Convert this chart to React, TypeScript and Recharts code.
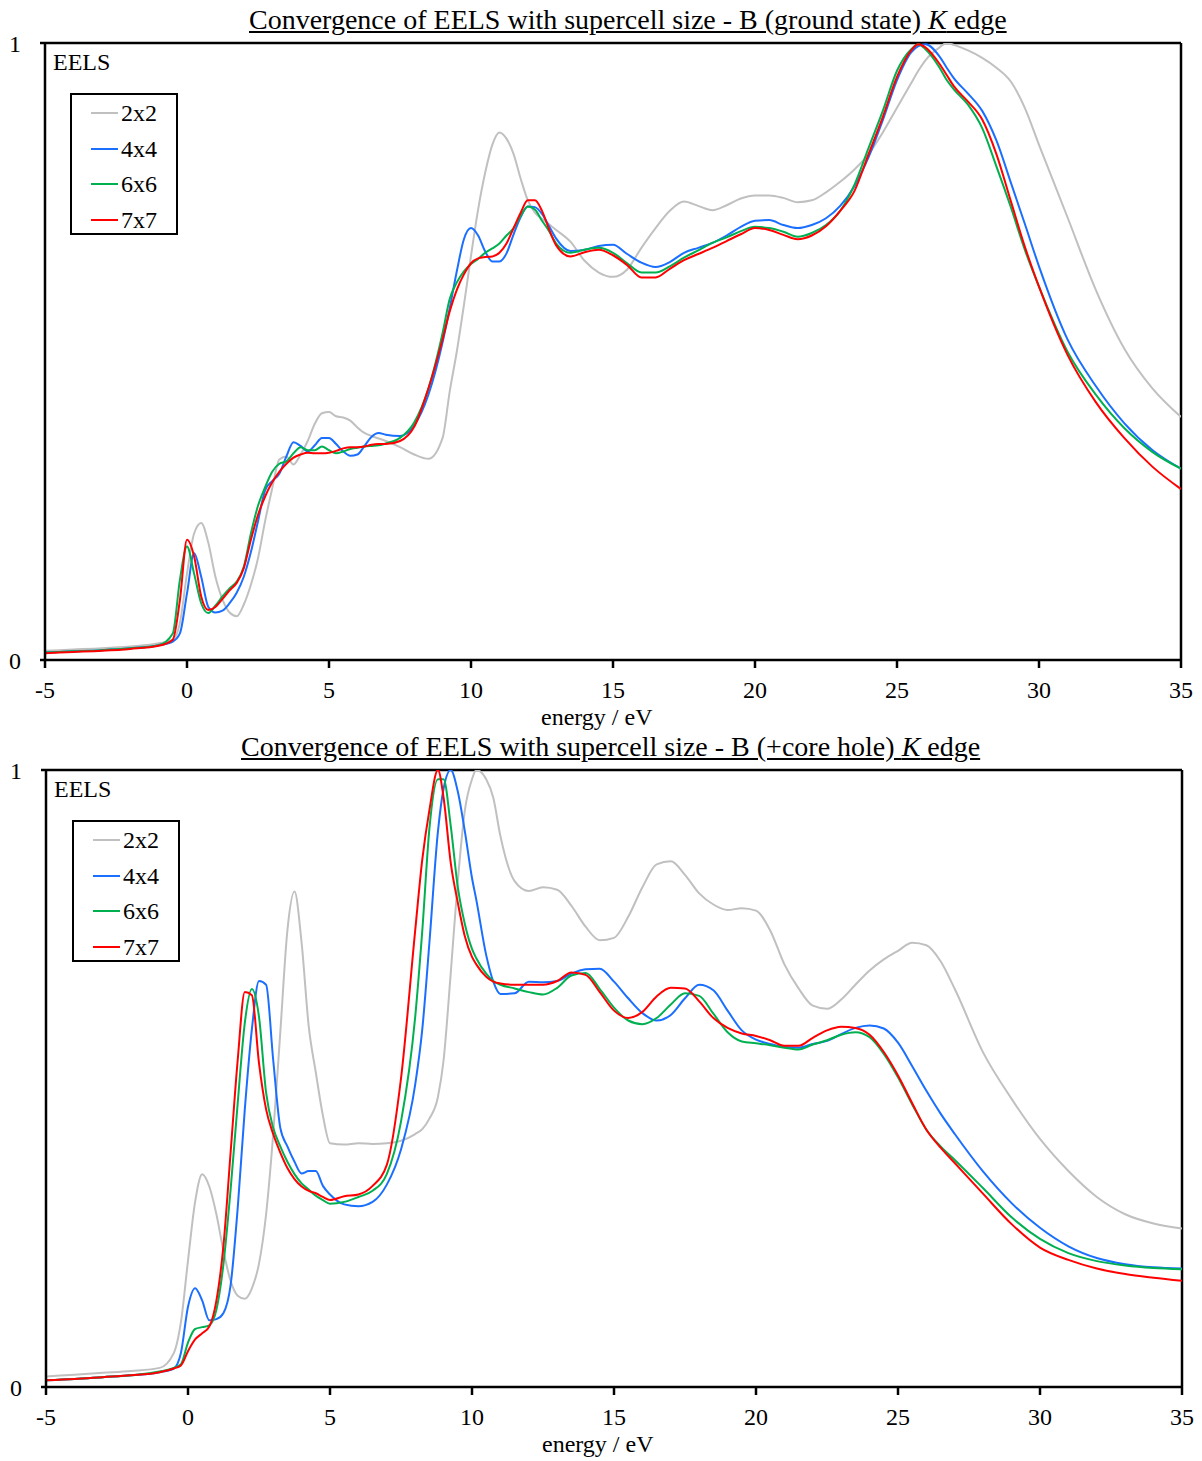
import { LineChart, Line, XAxis, YAxis, ReferenceLine } from 'recharts'

// energy grid (eV) and spectra, ground state panel
const energiesTop = [
  -5, -4, -3, -2, -1, -0.5, -0.25, 0, 0.25, 0.5, 0.75, 1, 1.25, 1.5, 1.75, 2, 2.25, 2.5, 2.75, 3,
  3.25, 3.5, 3.75, 4, 4.25, 4.5, 4.75, 5, 5.25, 5.5, 5.75, 6, 6.25, 6.5, 6.75, 7, 7.5, 8, 8.5, 9,
  9.25, 9.5, 9.75, 10, 10.25, 10.5, 10.75, 11, 11.25, 11.5, 11.75, 12, 12.25, 12.5, 12.75, 13,
  13.5, 14, 14.5, 15, 15.5, 16, 16.5, 17, 17.5, 18, 18.5, 19, 19.5, 20, 20.5, 21, 21.5, 22, 22.5,
  23, 23.5, 24, 24.5, 25, 25.5, 25.75, 26, 26.5, 26.75, 27, 27.5, 28, 28.5, 29, 29.5, 30, 31, 32,
  33, 34, 35,
]

const top2x2 = [
  0.015, 0.017, 0.019, 0.022, 0.027, 0.033, 0.06, 0.14, 0.205, 0.222, 0.19, 0.135, 0.098, 0.077, 0.071, 0.09, 0.122, 0.165, 0.225, 0.278,
  0.325, 0.33, 0.317, 0.333, 0.355, 0.383, 0.4, 0.402, 0.395, 0.393, 0.388, 0.377, 0.368, 0.363, 0.359, 0.355, 0.345, 0.333, 0.326, 0.36,
  0.435, 0.5, 0.575, 0.655, 0.73, 0.79, 0.835, 0.855, 0.845, 0.82, 0.78, 0.745, 0.725, 0.715, 0.706, 0.697,
  0.678, 0.647, 0.628, 0.621, 0.633, 0.668, 0.7, 0.728, 0.743, 0.736, 0.729, 0.737, 0.748, 0.753, 0.753, 0.749, 0.742, 0.745, 0.758,
  0.775, 0.795, 0.82, 0.855, 0.895, 0.935, 0.955, 0.972, 0.993, 1.0, 0.997, 0.988, 0.976, 0.96, 0.938, 0.895, 0.835, 0.718, 0.6,
  0.505, 0.44, 0.394,
]

const top4x4 = [
  0.012, 0.014, 0.016, 0.019, 0.024, 0.03, 0.043, 0.108, 0.173, 0.135, 0.086, 0.077, 0.08, 0.092, 0.109, 0.135, 0.175, 0.225, 0.275, 0.29,
  0.302, 0.33, 0.353, 0.347, 0.338, 0.348, 0.36, 0.36, 0.35, 0.338, 0.331, 0.333, 0.347, 0.362, 0.368, 0.365, 0.363, 0.38, 0.43, 0.515,
  0.57, 0.63, 0.682, 0.7, 0.688, 0.662, 0.646, 0.646, 0.659, 0.69, 0.718, 0.735, 0.734, 0.723, 0.703, 0.683,
  0.663, 0.665, 0.671, 0.673, 0.658, 0.644, 0.637, 0.645, 0.66, 0.668, 0.676, 0.688, 0.702, 0.712, 0.713, 0.705, 0.7, 0.705, 0.716,
  0.736, 0.768, 0.815, 0.875, 0.94, 0.985, 0.995, 0.998, 0.978, 0.96, 0.943, 0.918, 0.89, 0.842, 0.775, 0.707, 0.638, 0.52, 0.444,
  0.384, 0.34, 0.31,
]

const top6x6 = [
  0.012, 0.014, 0.016, 0.019, 0.024, 0.043, 0.13, 0.184, 0.14, 0.092, 0.076, 0.088, 0.103, 0.116, 0.127, 0.151, 0.205, 0.25, 0.28, 0.305,
  0.318, 0.322, 0.335, 0.345, 0.34, 0.34, 0.346, 0.34, 0.335, 0.338, 0.342, 0.344, 0.346, 0.347, 0.348, 0.351, 0.36, 0.385, 0.44, 0.53,
  0.585, 0.612, 0.63, 0.642, 0.65, 0.66, 0.667, 0.675, 0.688, 0.7, 0.72, 0.735, 0.73, 0.712, 0.695, 0.675,
  0.66, 0.665, 0.668, 0.66, 0.643, 0.628, 0.628, 0.638, 0.652, 0.664, 0.676, 0.685, 0.695, 0.702, 0.7, 0.694, 0.686, 0.692, 0.705,
  0.728, 0.77, 0.83, 0.89, 0.955, 0.99, 0.998, 0.99, 0.96, 0.94, 0.925, 0.9, 0.862, 0.8, 0.735, 0.665, 0.605, 0.5, 0.43,
  0.376, 0.337, 0.31,
]

const top7x7 = [
  0.011, 0.013, 0.015, 0.018, 0.023, 0.033, 0.097, 0.195, 0.168, 0.103, 0.081, 0.086, 0.099, 0.113, 0.125, 0.149, 0.195, 0.235, 0.265, 0.288,
  0.305, 0.318, 0.328, 0.333, 0.336, 0.335, 0.335, 0.336, 0.339, 0.343, 0.345, 0.345, 0.346, 0.349, 0.35, 0.35, 0.355, 0.378, 0.44, 0.52,
  0.565, 0.6, 0.625, 0.643, 0.651, 0.653, 0.654, 0.66, 0.675, 0.7, 0.725, 0.745, 0.745, 0.728, 0.698, 0.672,
  0.654, 0.661, 0.665, 0.656, 0.64, 0.62, 0.62, 0.634, 0.648, 0.658, 0.668, 0.679, 0.69, 0.7, 0.697, 0.689, 0.682, 0.688, 0.703,
  0.728, 0.76, 0.82, 0.88, 0.945, 0.988, 0.998, 0.993, 0.966, 0.948, 0.93, 0.905, 0.876, 0.82, 0.745, 0.67, 0.605, 0.495, 0.418,
  0.36, 0.313, 0.277,
]

// energy grid (eV) and spectra, core hole panel
const energiesBottom = [
  -5, -4, -3, -2, -1, -0.5, -0.25, 0, 0.25, 0.5, 0.75, 1, 1.25, 1.5, 1.75, 2, 2.25, 2.5, 2.75, 3,
  3.25, 3.5, 3.75, 4, 4.25, 4.5, 4.75, 5, 5.5, 6, 6.5, 7, 7.5, 8, 8.25, 8.5, 8.8, 9, 9.25, 9.5,
  9.75, 10, 10.15, 10.5, 10.75, 11, 11.5, 12, 12.5, 13, 13.5, 14, 14.5, 15, 15.5, 16, 16.5, 17,
  17.5, 18, 18.5, 19, 19.5, 20, 20.5, 21, 21.5, 22, 22.5, 23, 23.5, 24, 24.5, 25, 25.5, 26, 26.5,
  27, 28, 29, 30, 31, 32, 33, 34, 35,
]

const bottom2x2 = [
  0.017, 0.02, 0.023, 0.026, 0.031, 0.055, 0.105, 0.205, 0.3, 0.345, 0.325, 0.28, 0.22, 0.172, 0.148, 0.143, 0.16, 0.2, 0.28, 0.41,
  0.575, 0.74, 0.803, 0.72, 0.585, 0.51, 0.44, 0.395, 0.393, 0.395, 0.394, 0.395, 0.399, 0.41, 0.418, 0.435, 0.47, 0.53, 0.67, 0.82,
  0.935, 0.985, 1.0, 0.985, 0.955, 0.893, 0.82, 0.804, 0.81, 0.806, 0.78, 0.746, 0.724, 0.728, 0.762, 0.81, 0.847, 0.852,
  0.83, 0.8, 0.782, 0.773, 0.776, 0.772, 0.74, 0.685, 0.646, 0.618, 0.613, 0.628, 0.652, 0.675, 0.693, 0.707, 0.72, 0.716, 0.69,
  0.645, 0.542, 0.467, 0.402, 0.35, 0.308, 0.28, 0.265, 0.257,
]

const bottom4x4 = [
  0.011, 0.013, 0.016, 0.019, 0.024, 0.03, 0.055, 0.13, 0.16, 0.14, 0.108, 0.11, 0.12, 0.165, 0.29, 0.45, 0.58, 0.658, 0.652, 0.53,
  0.42, 0.39, 0.365, 0.346, 0.35, 0.35, 0.326, 0.312, 0.296, 0.293, 0.3, 0.328, 0.385, 0.49, 0.58, 0.72, 0.9, 0.97, 1.0, 0.965,
  0.9, 0.825, 0.79, 0.7, 0.657, 0.637, 0.638, 0.657, 0.656, 0.658, 0.67, 0.677, 0.678, 0.657, 0.63, 0.606, 0.594, 0.603,
  0.63, 0.652, 0.643, 0.61, 0.578, 0.563, 0.556, 0.551, 0.55, 0.556, 0.561, 0.572, 0.582, 0.586, 0.581, 0.558, 0.52, 0.48, 0.443,
  0.41, 0.349, 0.298, 0.258, 0.228, 0.209, 0.199, 0.194, 0.192,
]

const bottom6x6 = [
  0.011, 0.013, 0.016, 0.019, 0.025, 0.031, 0.037, 0.072, 0.094, 0.097, 0.1, 0.125, 0.2, 0.32, 0.46, 0.59, 0.645, 0.6, 0.477, 0.42,
  0.39, 0.365, 0.345, 0.33, 0.32, 0.31, 0.303, 0.297, 0.3, 0.308, 0.318, 0.345, 0.43, 0.6, 0.74, 0.905, 0.985, 0.985, 0.91, 0.81,
  0.75, 0.71, 0.695, 0.67, 0.658, 0.652, 0.646, 0.64, 0.636, 0.647, 0.667, 0.671, 0.645, 0.615, 0.594, 0.588, 0.598, 0.62,
  0.638, 0.634, 0.605, 0.575, 0.56, 0.557, 0.554, 0.55, 0.547, 0.555, 0.562, 0.571, 0.575, 0.567, 0.54, 0.502, 0.458, 0.417, 0.39,
  0.368, 0.322, 0.275, 0.24, 0.217, 0.204, 0.197, 0.193, 0.191,
]

const bottom7x7 = [
  0.011, 0.013, 0.016, 0.019, 0.024, 0.03, 0.035, 0.058, 0.077, 0.087, 0.098, 0.14, 0.23, 0.38, 0.53, 0.64, 0.635, 0.525, 0.45, 0.41,
  0.38, 0.355, 0.337, 0.325, 0.318, 0.314, 0.308, 0.303, 0.309, 0.312, 0.326, 0.36, 0.5, 0.74, 0.855, 0.935, 1.0, 0.955, 0.85, 0.785,
  0.73, 0.697, 0.685, 0.665, 0.657, 0.654, 0.652, 0.652, 0.652, 0.658, 0.672, 0.668, 0.64, 0.61, 0.598, 0.608, 0.633, 0.647,
  0.646, 0.625, 0.598, 0.582, 0.573, 0.569, 0.562, 0.553, 0.553, 0.566, 0.578, 0.584, 0.582, 0.571, 0.543, 0.505, 0.46, 0.417, 0.388,
  0.363, 0.313, 0.264, 0.226, 0.206, 0.192, 0.183, 0.177, 0.172,
]

const xTicks = [-5, 0, 5, 10, 15, 20, 25, 30, 35]
const yTicks = [0, 1]

const SERIES = [
  { key: 's2', name: '2x2', color: '#c0c0c0' },
  { key: 's4', name: '4x4', color: '#1a6fff' },
  { key: 's6', name: '6x6', color: '#00b050' },
  { key: 's7', name: '7x7', color: '#ff0000' },
]

const FONT = "'Liberation Serif', 'Times New Roman', serif"

function buildRows(energies: number[], s2: number[], s4: number[], s6: number[], s7: number[]) {
  return energies.map((e, i) => ({ e, s2: s2[i], s4: s4[i], s6: s6[i], s7: s7[i] }))
}

const rowsTop = buildRows(energiesTop, top2x2, top4x4, top6x6, top7x7)
const rowsBottom = buildRows(energiesBottom, bottom2x2, bottom4x4, bottom6x6, bottom7x7)

function LegendBox({ left, top }: { left: number; top: number }) {
  return (
    <div
      style={{
        position: 'absolute',
        left,
        top,
        width: 104,
        height: 138,
        border: '2px solid #000',
        background: '#fff',
      }}
    >
      {SERIES.map((s, i) => (
        <div
          key={s.key}
          style={{
            position: 'absolute',
            left: 0,
            top: 18 + i * 35.7 - 14,
            height: 28,
            display: 'flex',
            alignItems: 'center',
          }}
        >
          <div style={{ marginLeft: 19, width: 27, height: 2, background: s.color }} />
          <span style={{ marginLeft: 3, fontSize: 24, lineHeight: '28px' }}>{s.name}</span>
        </div>
      ))}
    </div>
  )
}

interface PanelProps {
  rows: Array<Record<string, number>>
  height: number
  axisLeft: number
  axisRight: number
}

function Panel({ rows, height, axisLeft, axisRight }: PanelProps) {
  const tickStyle = { fill: '#000', fontSize: 24, fontFamily: FONT }
  return (
    <LineChart
      width={1202}
      height={height}
      data={rows}
      margin={{ top: 43, right: 1202 - axisRight, bottom: 0, left: 0 }}
    >
      <XAxis
        dataKey="e"
        type="number"
        domain={[-5, 35]}
        ticks={xTicks}
        allowDataOverflow
        height={height - 660}
        tick={tickStyle}
        tickSize={8}
        tickMargin={13}
        axisLine={{ stroke: '#000', strokeWidth: 2.5 }}
        tickLine={{ stroke: '#000', strokeWidth: 2.5 }}
      />
      <YAxis
        type="number"
        domain={[0, 1]}
        ticks={yTicks}
        allowDataOverflow
        width={axisLeft}
        tick={tickStyle}
        tickSize={5}
        tickMargin={19}
        axisLine={{ stroke: '#000', strokeWidth: 2.5 }}
        tickLine={{ stroke: '#000', strokeWidth: 2.5 }}
      />
      <ReferenceLine y={1} stroke="#000" strokeWidth={2.5} />
      <ReferenceLine x={35} stroke="#000" strokeWidth={2.5} />
      {SERIES.map((s) => (
        <Line
          key={s.key}
          type="monotone"
          dataKey={s.key}
          stroke={s.color}
          strokeWidth={2}
          dot={false}
          activeDot={false}
          isAnimationActive={false}
        />
      ))}
    </LineChart>
  )
}

export default function App() {
  const titleStyle = {
    position: 'absolute' as const,
    fontSize: 28,
    lineHeight: '28px',
    textDecoration: 'underline',
    whiteSpace: 'nowrap' as const,
  }
  const labelStyle = {
    position: 'absolute' as const,
    fontSize: 24,
    lineHeight: '24px',
    whiteSpace: 'nowrap' as const,
  }
  return (
    <div style={{ position: 'relative', width: 1202, height: 1461, fontFamily: FONT, color: '#000', background: '#fff' }}>
      <style>{'body{margin:0}'}</style>

      <div style={{ position: 'absolute', left: 0, top: 0 }}>
        <Panel rows={rowsTop} height={727} axisLeft={45} axisRight={1181} />
      </div>
      <div style={{ ...titleStyle, left: 249, top: 6 }}>
        Convergence of EELS with supercell size - B (ground state) <i>K</i> edge
      </div>
      <div style={{ ...labelStyle, left: 53, top: 50 }}>EELS</div>
      <div style={{ ...labelStyle, left: 541, top: 705 }}>energy / eV</div>
      <LegendBox left={70} top={93} />

      <div style={{ position: 'absolute', left: 0, top: 727 }}>
        <Panel rows={rowsBottom} height={734} axisLeft={46} axisRight={1182} />
      </div>
      <div style={{ ...titleStyle, left: 241, top: 733 }}>
        Convergence of EELS with supercell size - B (+core hole) <i>K</i> edge
      </div>
      <div style={{ ...labelStyle, left: 54, top: 777 }}>EELS</div>
      <div style={{ ...labelStyle, left: 542, top: 1432 }}>energy / eV</div>
      <LegendBox left={72} top={820} />
    </div>
  )
}
